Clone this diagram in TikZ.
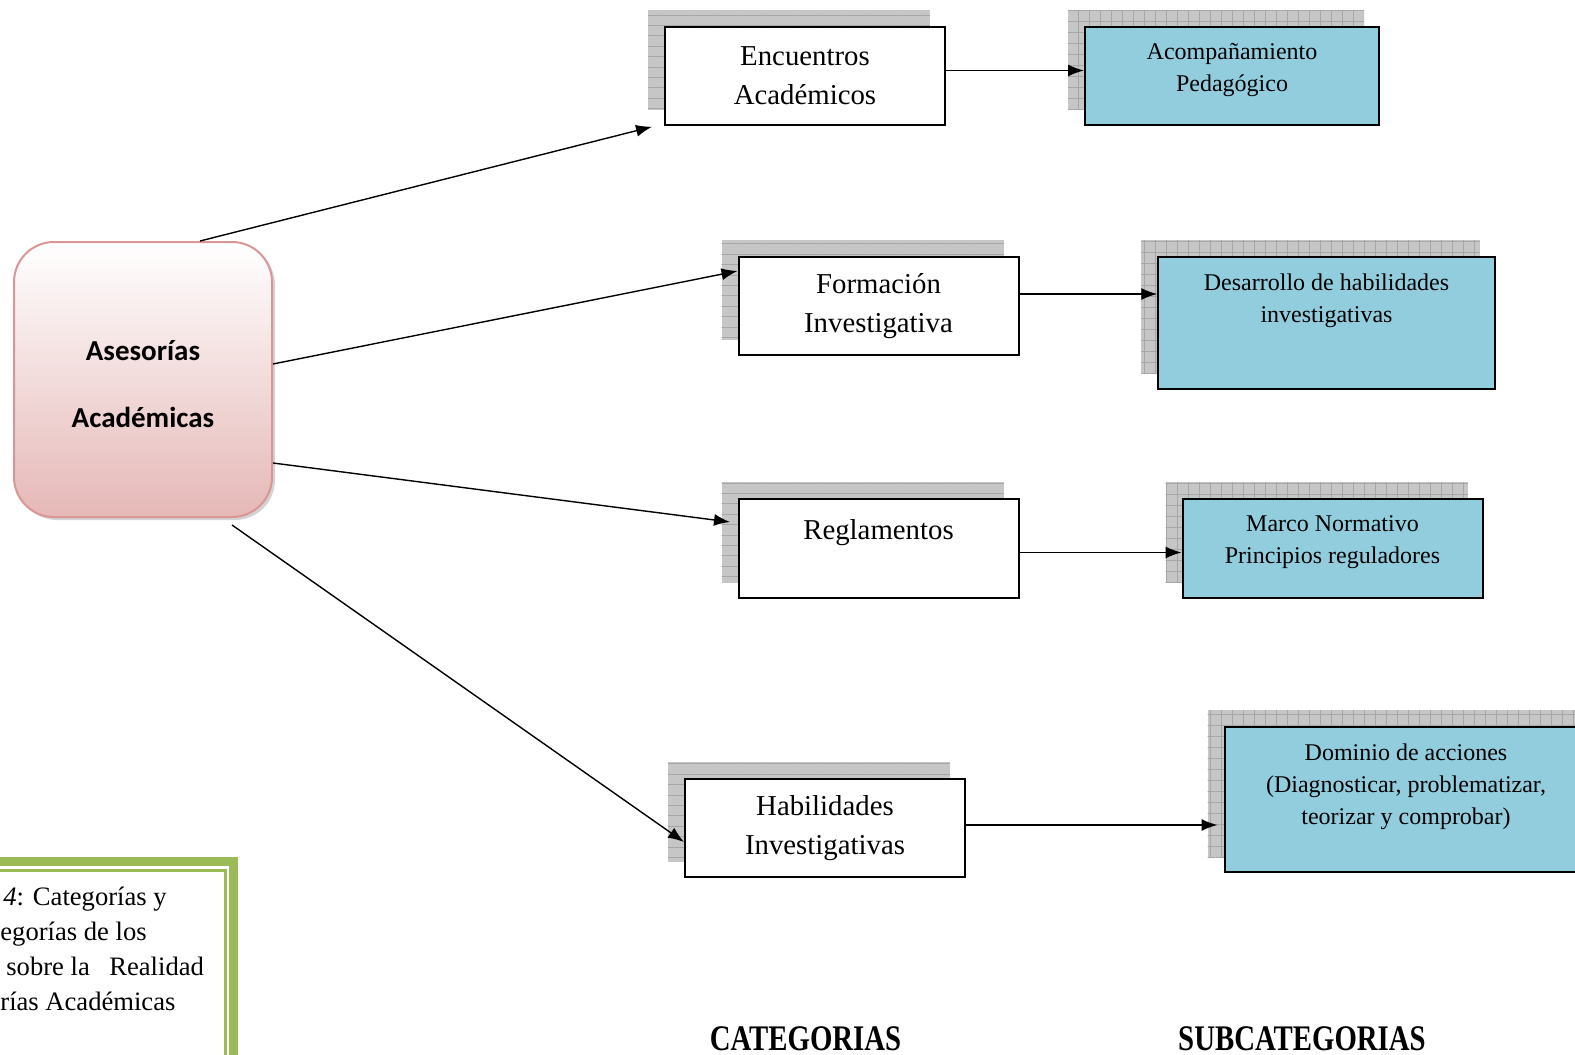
\documentclass[tikz,border=0pt]{standalone}
\usepackage{fontspec}
\setmainfont{Liberation Serif}
\newfontfamily\calibrifont{Carlito}
\usetikzlibrary{positioning, arrows.meta, patterns.meta, shadows, backgrounds}

\definecolor{subblue}{RGB}{146,205,221}
\definecolor{asespink}{RGB}{229,184,183}
\definecolor{asesborder}{RGB}{217,150,148}
\definecolor{framegreen}{RGB}{155,187,89}

\tikzset{
	catbox/.style={draw, line width=1pt, fill=white, minimum width=140pt, minimum height=48.75pt, inner sep=0pt, align=center, font=\fontsize{14.4}{19.5}\selectfont},
	subbox/.style={draw, line width=1pt, fill=subblue, inner sep=0pt},
	subtext/.style={anchor=north, align=center, inner sep=0pt, yshift=-8.5pt, font=\fontsize{12}{16}\selectfont},
	catshadow/.style={preaction={fill=gray!45}, pattern={Lines[angle=0, distance=5.2pt, line width=0.4pt]}, pattern color=gray!70},
	subshadow/.style={preaction={fill=gray!45}, pattern={Hatch[angle=0, distance=5.5pt, line width=0.4pt]}, pattern color=gray!70},
	link/.style={line width=0.7pt, -{Latex[length=8pt, width=6pt]}},
	heading/.style={font=\bfseries\fontsize{14.4}{16}\selectfont, inner sep=0pt, anchor=base}
}

\begin{document}
\begin{tikzpicture}[x=0.5pt, y=-0.5pt]
			\useasboundingbox (0,0) rectangle (1575,1055);

			\node[draw=asesborder, line width=1pt, rounded corners=20pt, top color=white, bottom color=asespink,
				minimum width=129pt, minimum height=137.5pt, align=center,
				font=\calibrifont\bfseries\fontsize{14.5}{33.5}\selectfont,
				drop shadow={shadow xshift=1.5pt, shadow yshift=-1.5pt, opacity=0.35}] (ases) at (143,379.5) {\rule{0pt}{15pt}Asesorías\\Académicas};

			\begin{scope}
				\node[catbox] (enc) at (805,76) {Encuentros\\Académicos};
				\node[catbox] (form) at (878.5,306) {Formación\\Investigativa};
				\node[catbox, minimum height=49.25pt] (regl) at (878.5,548.5) {Reglamentos\\\mbox{}};
				\node[catbox, minimum height=49.25pt] (hab) at (825,828) {Habilidades\\Investigativas};
			\end{scope}

			\begin{scope}
				\node[subbox, minimum width=147pt, minimum height=48.75pt,
					label={[subtext]north:{Acompañamiento\\Pedagógico}}] (acomp) at (1232,76) {};
				\node[subbox, minimum width=168.25pt, minimum height=65.75pt,
					label={[subtext]north:{Desarrollo de habilidades\\investigativas}}] (desa) at (1326.5,323) {};
				\node[subbox, minimum width=150pt, minimum height=49.25pt,
					label={[subtext]north:{Marco Normativo\\Principios reguladores}}] (marco) at (1332.5,548.5) {};
				\node[subbox, minimum width=185.5pt, minimum height=72.5pt,
					label={[subtext, xshift=-2pt]north:{Dominio de acciones\\(Diagnosticar, problematizar,\\teorizar y comprobar)}}] (dom) at (1410,799.5) {};
			\end{scope}

			\begin{scope}[on background layer]
				\foreach \n in {enc, form, regl, hab}
				{
					\path[catshadow] ([shift={(-8pt,8pt)}]\n.south west) rectangle ([shift={(-8pt,8pt)}]\n.north east);
				}
				\foreach \n in {acomp, desa, marco, dom}
				{
					\path[subshadow] ([shift={(-8pt,8pt)}]\n.south west) rectangle ([shift={(-8pt,8pt)}]\n.north east);
				}
			\end{scope}

			\begin{scope}
				\draw[link] ([xshift=28.5pt]ases.north) -- ([xshift=-6pt, yshift=-0.5pt]enc.south west);
				\draw[link] ([yshift=7.75pt]ases.east) -- ([yshift=17.5pt]form.west);
				\draw[link] ([yshift=-41.75pt]ases.east) -- ([xshift=-3.75pt, yshift=13.25pt]regl.west);
				\draw[link] ([xshift=44.5pt, yshift=-3.5pt]ases.south) -- ([yshift=-7pt]hab.west);

				\draw[link] ([yshift=2.75pt]enc.east) -- ([yshift=2.75pt]acomp.west);
				\draw[link] ([yshift=6pt]form.east) -- ([yshift=14.5pt]desa.west);
				\draw[link] ([yshift=-2pt]regl.east) -- ([yshift=-2pt]marco.west);
				\draw[link] ([yshift=1.5pt]hab.east) -- ([xshift=-3pt, yshift=-12.75pt]dom.west);
			\end{scope}

			\begin{scope}
				\draw[framegreen, line width=4.5pt] (-20,861.5) -- (233.5,861.5) -- (233.5,1080);
				\draw[framegreen, line width=1.5pt] (-20,870) -- (225.5,870) -- (225.5,1080);
				\node[anchor=north west, inner sep=0pt, align=left, font=\fontsize{13.3}{17.5}\selectfont] (caption) at (0,887)
					{\hspace{1.5pt}\textit{4}: Categorías y\\egorías de los\\\hspace{3pt}sobre la\hspace{9.75pt}Realidad\\rías Académicas};
			\end{scope}

			\node[heading] (cattitle) at (805.5,1050) {\scalebox{1}[1.25]{CATEGORIAS}};
			\node[heading] (subtitle) at (1302,1050) {\scalebox{1}[1.25]{SUBCATEGORIAS}};
		\end{tikzpicture}
\end{document}
